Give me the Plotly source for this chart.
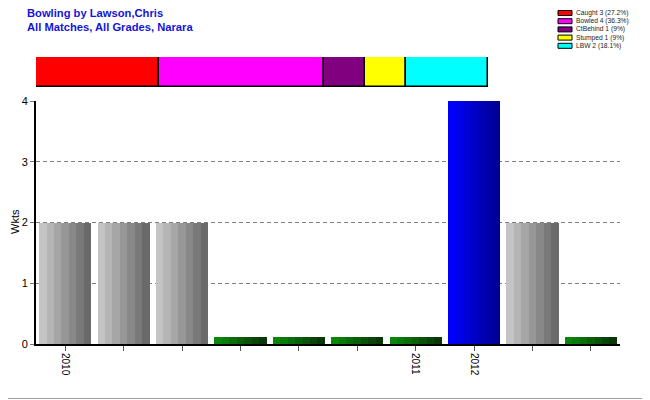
import numpy as np
import plotly.graph_objects as go

# ---------------- data ----------------
seasons = ["2010", "", "", "", "", "", "2011", "2012", "", ""]
wickets = [2, 2, 2, 0, 0, 0, 0, 4, 2, 0]
bar_kind = ["gray", "gray", "gray", "green", "green", "green", "green", "blue", "gray", "green"]

dismissal_types = ["Caught", "Bowled", "CtBehind", "Stumped", "LBW"]
dismissal_counts = [3, 4, 1, 1, 2]
dismissal_colors = ["#ff0000", "#ff00ff", "#800080", "#ffff00", "#00ffff"]

title_lines = ["Bowling by Lawson,Chris", "All Matches, All Grades, Narara"]
y_title = "Wkts"

# ---------------- layout constants ----------------
OFF = 8                   # page body margin of the html page
W, H = 650 - OFF, 400 - OFF
L, R, T, B = 36, 620, 50, 344   # target pixel positions in the 650x400 window
FONT = "Arial, 'Liberation Sans', sans-serif"
ZERO_STUB = 0.11          # visible stub drawn for zero-wicket seasons
BAR_W = 0.89
N_STRIPES = 7
gradients = {
    "gray": ((196, 196, 196), (106, 106, 106)),
    "blue": ((0, 0, 250), (0, 0, 150)),
    "green": ((10, 135, 10), (10, 55, 10)),
}


def px_x(px):
    return (px - L) / (R - L)


def px_y(py):
    return (B - py) / (B - T)


def mix(c0, c1, t):
    return "rgb(%d,%d,%d)" % tuple(round(a + (b - a) * t) for a, b in zip(c0, c1))


fig = go.Figure()

x_idx = list(range(len(wickets)))
heights = [w if w > 0 else ZERO_STUB for w in wickets]
sw = BAR_W / N_STRIPES
for k in range(N_STRIPES):
    t = k / (N_STRIPES - 1)
    cols = [mix(*gradients[kind], t) for kind in bar_kind]
    fig.add_trace(go.Bar(
        x=x_idx, y=heights, width=sw * 1.02, offset=-BAR_W / 2 + k * sw,
        marker=dict(color=cols, line=dict(width=0)),
        showlegend=False, hoverinfo="skip", xaxis="x", yaxis="y",
    ))

# stacked dismissal strip
bases = np.concatenate([[0], np.cumsum(dismissal_counts)[:-1]])
for name, cnt, base, col in zip(dismissal_types, dismissal_counts, bases, dismissal_colors):
    fig.add_trace(go.Bar(
        y=[0], x=[cnt], base=[base], orientation="h", width=1,
        marker=dict(color=col, line=dict(color="black", width=1.5)),
        showlegend=False, hoverinfo="skip", xaxis="x2", yaxis="y2",
    ))

total = sum(dismissal_counts)
unit_px = 452 / total
strip_range = (R - L) / unit_px

# ---------------- legend (manual) ----------------
shapes = []
annotations = []
row_y = [13.0, 21.2, 29.4, 37.6, 45.8]
for name, cnt, col, ry in zip(dismissal_types, dismissal_counts, dismissal_colors, row_y):
    pct = np.floor(cnt / total * 1000) / 10
    label = "%s %d (%s%%)" % (name, cnt, "%g" % pct)
    shapes.append(dict(type="rect", xref="paper", yref="paper",
                       x0=px_x(558), x1=px_x(572), y0=px_y(ry + 2.5), y1=px_y(ry - 2.5),
                       fillcolor=col, line=dict(color="black", width=1)))
    annotations.append(dict(text=label, xref="paper", yref="paper",
                            x=px_x(575), y=px_y(ry), xanchor="left", yanchor="middle",
                            showarrow=False, borderpad=0,
                            font=dict(family=FONT, size=6.7, color="#222")))

# titles
for i, line in enumerate(title_lines):
    annotations.append(dict(text="<b>%s</b>" % line, xref="paper", yref="paper",
                            x=px_x(25.5), y=px_y(13 + 13.8 * i), xanchor="left", yanchor="middle",
                            showarrow=False, borderpad=0,
                            font=dict(family=FONT, size=11.2, color="#1414d8")))

annotations.append(dict(text=y_title, xref="paper", yref="paper", x=px_x(15), y=px_y(222),
                        textangle=-90, xanchor="center", yanchor="middle", showarrow=False,
                        font=dict(family=FONT, size=11, color="black")))

# image frame (bottom/right)
shapes.append(dict(type="line", xref="paper", yref="paper", x0=px_x(0), x1=px_x(650),
                   y0=px_y(398.5), y1=px_y(398.5), line=dict(color="#a0a0a0", width=1)))
shapes.append(dict(type="line", xref="paper", yref="paper", x0=px_x(648.5), x1=px_x(648.5),
                   y0=px_y(0), y1=px_y(400), line=dict(color="#a0a0a0", width=1)))

fig.update_layout(
    width=W, height=H,
    margin=dict(l=L - OFF, r=650 - R, t=T - OFF, b=400 - B, pad=0),
    paper_bgcolor="white", plot_bgcolor="white",
    barmode="overlay", bargap=0,
    showlegend=False,
    font=dict(family=FONT, color="black"),
    xaxis=dict(
        domain=[0, 1], range=[-0.5, len(wickets) - 0.5],
        tickmode="array", tickvals=x_idx, ticktext=seasons, tickangle=90,
        ticks="outside", ticklen=5, tickcolor="#555", tickwidth=1,
        tickfont=dict(size=10, family=FONT, color="black"),
        showline=True, linecolor="black", linewidth=2, showgrid=False, zeroline=False,
        anchor="y",
    ),
    yaxis=dict(
        domain=[0, px_y(101)], range=[0, 4], tickvals=[0, 1, 2, 3, 4],
        ticks="outside", ticklen=4, tickcolor="#777", tickwidth=1,
        tickfont=dict(size=11, family=FONT, color="black"),
        showline=True, linecolor="black", linewidth=2,
        showgrid=True, gridcolor="#808080", griddash="4px,3px", gridwidth=1,
        zeroline=False, anchor="x",
    ),
    xaxis2=dict(domain=[0, 1], range=[0, strip_range], anchor="y2",
                visible=False, showgrid=False, zeroline=False),
    yaxis2=dict(domain=[px_y(87), px_y(57)], range=[-0.5, 0.5], anchor="x2",
                visible=False, showgrid=False, zeroline=False),
    shapes=shapes,
    annotations=annotations,
)

fig.write_html("out.html")
